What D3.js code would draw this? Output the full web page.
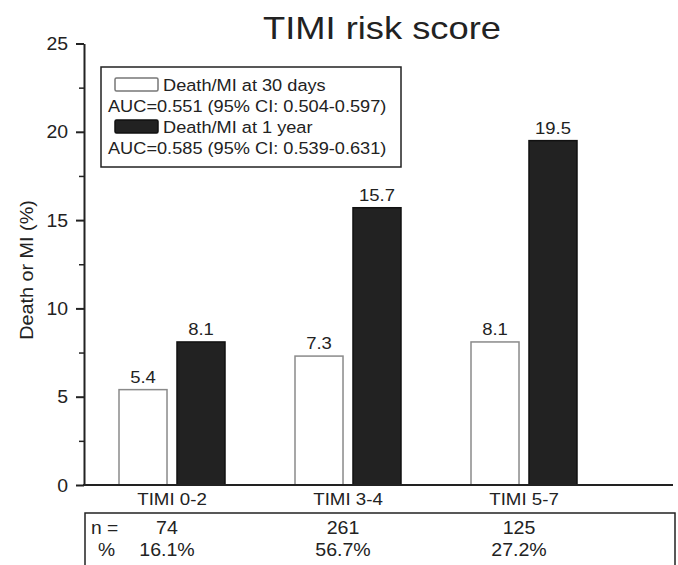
<!DOCTYPE html>
<html><head><meta charset="utf-8">
<script src="https://cdn.jsdelivr.net/npm/d3@7"></script>
<style>html,body{margin:0;padding:0;background:#fff;}svg{display:block;font-family:"Liberation Sans",Arial,sans-serif;}</style>
</head><body>
<script>
const categories = ["TIMI 0-2", "TIMI 3-4", "TIMI 5-7"];
const series = ["Death/MI at 30 days", "Death/MI at 1 year"];
const aucLabels = ["AUC=0.551 (95% CI: 0.504-0.597)", "AUC=0.585 (95% CI: 0.539-0.631)"];
const values30d = [5.4, 7.3, 8.1];
const values1y = [8.1, 15.7, 19.5];
const nValues = ["74", "261", "125"];
const pctValues = ["16.1%", "56.7%", "27.2%"];
const yTicks = [0, 5, 10, 15, 20, 25];
const yMinorTicks = [2.5, 7.5, 12.5, 17.5, 22.5];

const W = 678, H = 565;
const svg = d3.select("body").append("svg").attr("width", W).attr("height", H);
const ink = "#222";

function txt(x, y, s, size, anchor, sx) {
  return svg.append("text").attr("transform", `translate(${x},${y}) scale(${sx || 1.08},1)`)
    .attr("font-size", size).attr("text-anchor", anchor || "start").attr("fill", ink).text(s);
}

const y = d3.scaleLinear().domain([0, 25]).range([485, 43.5]);
const x0 = d3.scaleBand().domain(categories).range([84, 612]).paddingInner(0).paddingOuter(0);
const x1 = d3.scaleBand().domain(series).range([35, 141]).paddingInner(0.172);

// bars
const data = categories.map((c, i) => ({cat: c, vals: [{s: series[0], v: values30d[i]}, {s: series[1], v: values1y[i]}]}));
const g = svg.selectAll("g.grp").data(data).join("g").attr("transform", d => `translate(${x0(d.cat)},0)`);
g.selectAll("rect").data(d => d.vals).join("rect")
  .attr("x", d => x1(d.s)).attr("width", x1.bandwidth())
  .attr("y", d => y(d.v)).attr("height", d => y(0) - y(d.v))
  .attr("fill", d => d.s === series[0] ? "#fff" : "#222")
  .attr("stroke", d => d.s === series[0] ? "#8a8a8a" : "#111").attr("stroke-width", 1.5);
data.forEach(d => {
  d.vals.forEach(v => {
    const cx = x0(d.cat) + x1(v.s) + x1.bandwidth() / 2;
    txt(cx, y(v.v) - 7, v.v.toFixed(1), 16.8, "middle", 1.1);
  });
});

// y axis
const yAxis = svg.append("g").attr("transform", "translate(84,0)")
  .call(d3.axisLeft(y).tickValues(yTicks).tickSize(8).tickSizeOuter(0).tickFormat(d3.format("d")));
yAxis.select(".domain").attr("stroke", ink).attr("stroke-width", 2);
yAxis.selectAll(".tick line").attr("stroke", ink).attr("stroke-width", 2);
yAxis.selectAll(".tick text").remove();
yTicks.forEach(t => txt(68, y(t) + 6.5, String(t), 18, "end", 1.08));
const yMinor = svg.append("g").attr("transform", "translate(84,0)")
  .call(d3.axisLeft(y).tickValues(yMinorTicks).tickSize(5).tickFormat(""));
yMinor.select(".domain").remove();
yMinor.selectAll(".tick line").attr("stroke", ink).attr("stroke-width", 1.5);

// x axis baseline
svg.append("line").attr("x1", 83).attr("x2", 673).attr("y1", y(0)).attr("y2", y(0)).attr("stroke", ink).attr("stroke-width", 2);
categories.forEach(c => txt(x0(c) + x0.bandwidth() / 2, 505, c, 17.3, "middle", 1.08));

// y label
svg.append("text").attr("transform", `translate(33,270) rotate(-90) scale(1.1,1.05)`)
  .attr("font-size", 18).attr("text-anchor", "middle").attr("fill", ink).text("Death or MI (%)");

// title
txt(382, 39, "TIMI risk score", 30.5, "middle", 1.19);

// legend
svg.append("rect").attr("x", 101).attr("y", 67).attr("width", 300).attr("height", 100)
  .attr("fill", "#fff").attr("stroke", ink).attr("stroke-width", 1.5);
const legY = [78, 120];
series.forEach((s, i) => {
  svg.append("rect").attr("x", 115).attr("y", legY[i]).attr("width", 43).attr("height", 13)
    .attr("fill", i === 0 ? "#fff" : "#222").attr("stroke", i === 0 ? "#777" : "#111").attr("stroke-width", 1.5).attr("rx", 1.5);
  txt(163, legY[i] + 13, s, 17, "start", 1.07);
  txt(108, legY[i] + 34, aucLabels[i], 17, "start", 1.07);
});

// table
svg.append("path").attr("d", `M85,${H + 2}V513H675V${H + 2}`).attr("fill", "none").attr("stroke", ink).attr("stroke-width", 1.5);
txt(91, 534, "n =", 17.5, "start", 1.1);
txt(98, 556, "%", 17.5, "start", 1.1);
categories.forEach((c, i) => {
  const cx = x0(c) + x0.bandwidth() / 2 - 5;
  txt(cx, 534, nValues[i], 17.5, "middle", 1.12);
  txt(cx, 556, pctValues[i], 17.5, "middle", 1.12);
});
</script>
</body></html>
